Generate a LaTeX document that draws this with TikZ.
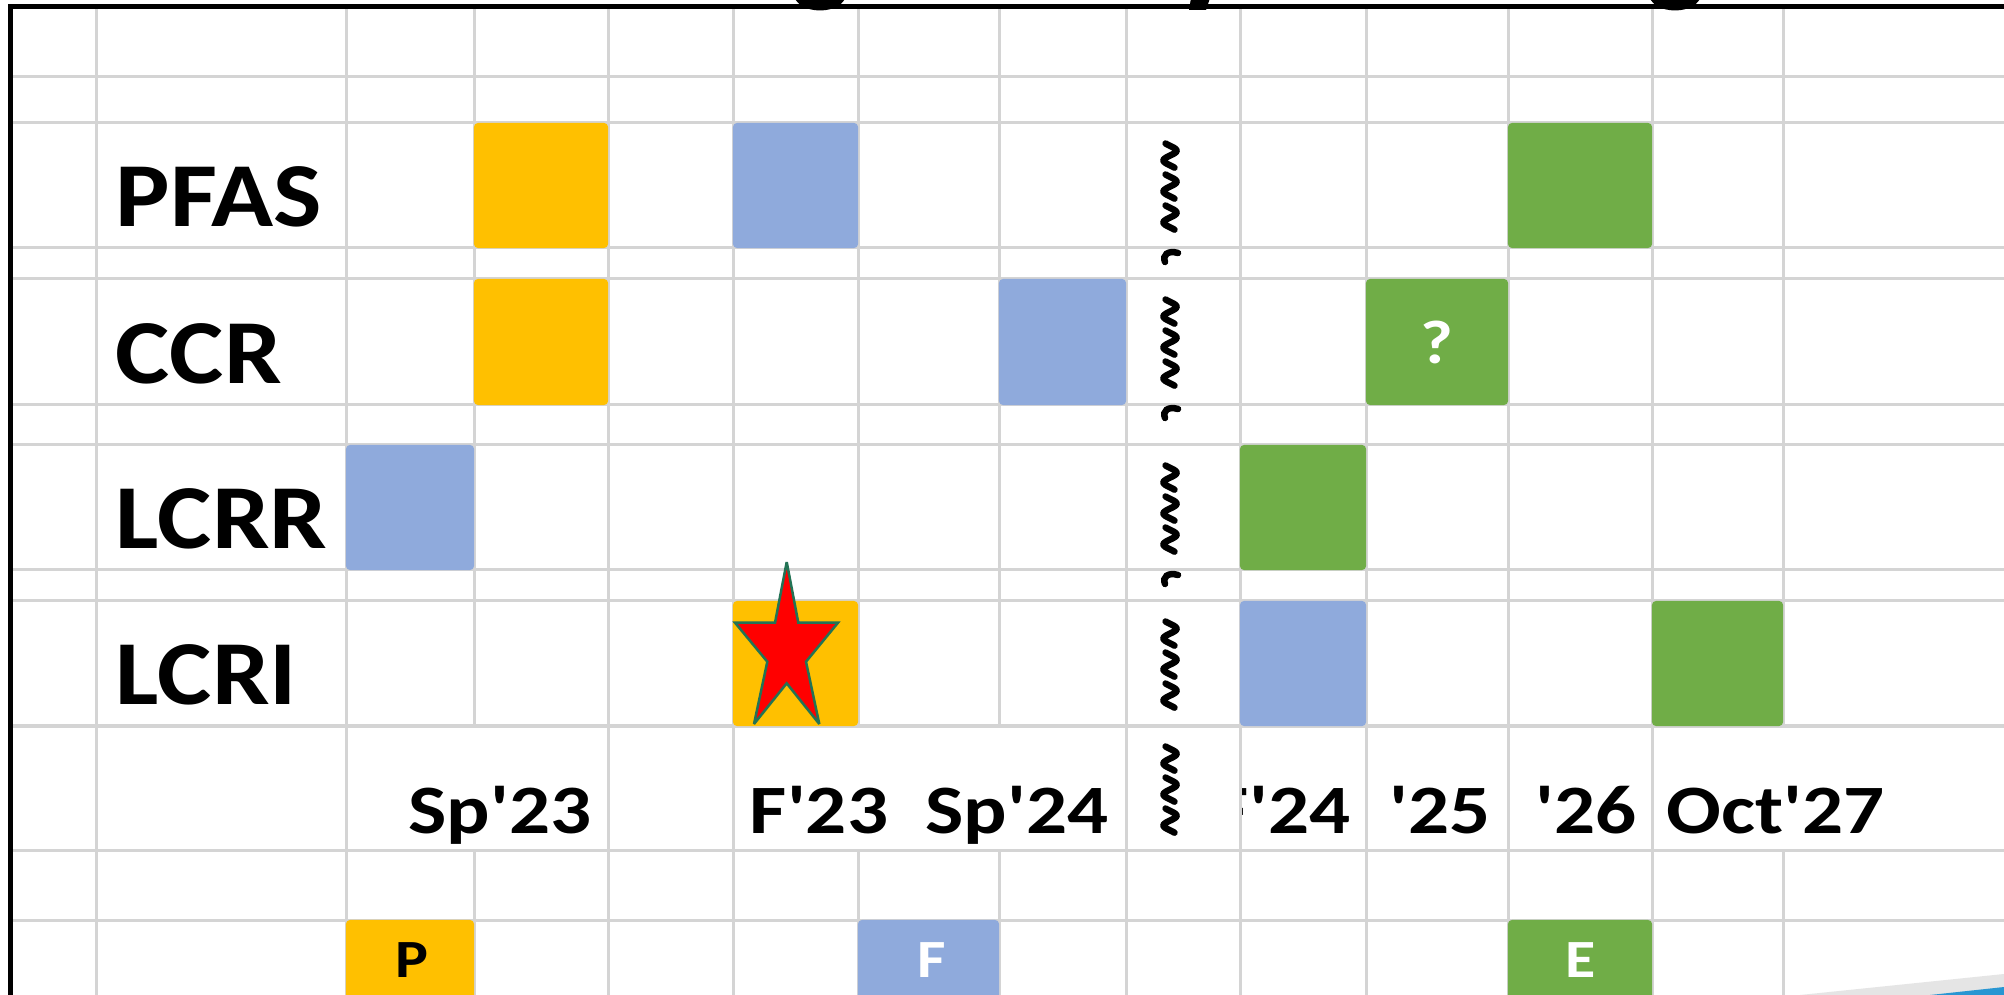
\documentclass[tikz,border=0pt]{standalone}
\usepackage{fontspec}
\newfontfamily\calfont{Carlito}
\definecolor{gridgray}{RGB}{212,212,212}
\definecolor{xlyellow}{RGB}{255,192,0}
\definecolor{xlblue}{RGB}{143,170,220}
\definecolor{xlgreen}{RGB}{112,173,71}
\definecolor{starred}{RGB}{255,0,0}
\definecolor{staredge}{RGB}{35,115,85}
\definecolor{swgray}{RGB}{229,229,229}
\definecolor{swblue}{RGB}{40,150,210}
\begin{document}
\begin{tikzpicture}[x=0.01cm,y=-0.01cm,
  gridline/.style={draw=gridgray,line width=0.03cm},
  cellbox/.style={rounded corners=0.04cm,inner sep=0pt,outer sep=0pt,draw=none},
  rowlabel/.style={anchor=base west,inner sep=0pt,xscale=1.12,font=\calfont\fontsize{26}{30}\selectfont\bfseries},
  axislabel/.style={inner sep=0pt,xscale=1.17,font=\calfont\fontsize{19.7}{24}\selectfont\bfseries},
  boxletter/.style={inner sep=0pt,xscale=1.15,font=\calfont\fontsize{15.3}{18}\selectfont\bfseries},
  squigline/.style={line width=0.065cm,line cap=round,draw=black},
  bordline/.style={line width=0.055cm,draw=black},
]
\useasboundingbox (0,0) rectangle (2004,995);
\clip (0,0) rectangle (2004,995);
\fill[white] (0,0) rectangle (2004,995);

% grid: horizontal lines
\foreach \yy in {77,123,248,279,405,445,570,601,726,850,920}
  \draw[gridline] (13,\yy) -- (2004,\yy);
% grid: vertical lines running through
\foreach \xx in {96,346,608,733,1126,1240,1366,1508,1652}
  \draw[gridline] (\xx,9) -- (\xx,995);
% grid: vertical lines interrupted by the date row
\foreach \xx in {474,858,999,1783} {
  \draw[gridline] (\xx,9) -- (\xx,726);
  \draw[gridline] (\xx,850) -- (\xx,995);
}

% coloured cells
\node[cellbox,fill=xlyellow,minimum width=1.34cm,minimum height=1.25cm] (pfasY) at (541,185.5) {};
\node[cellbox,fill=xlblue,minimum width=1.25cm,minimum height=1.25cm] (pfasB) at (795.5,185.5) {};
\node[cellbox,fill=xlgreen,minimum width=1.44cm,minimum height=1.25cm] (pfasG) at (1580,185.5) {};

\node[cellbox,fill=xlyellow,minimum width=1.34cm,minimum height=1.26cm] (ccrY) at (541,342) {};
\node[cellbox,fill=xlblue,minimum width=1.27cm,minimum height=1.26cm] (ccrB) at (1062.5,342) {};
\node[cellbox,fill=xlgreen,minimum width=1.42cm,minimum height=1.26cm] (ccrG) at (1437,342) {};

\node[cellbox,fill=xlblue,minimum width=1.28cm,minimum height=1.25cm] (lcrrB) at (410,507.5) {};
\node[cellbox,fill=xlgreen,minimum width=1.26cm,minimum height=1.25cm] (lcrrG) at (1303,507.5) {};

\node[cellbox,fill=xlyellow,minimum width=1.25cm,minimum height=1.25cm] (lcriY) at (795.5,663.5) {};
\node[cellbox,fill=xlblue,minimum width=1.26cm,minimum height=1.25cm] (lcriB) at (1303,663.5) {};
\node[cellbox,fill=xlgreen,minimum width=1.31cm,minimum height=1.25cm] (lcriG) at (1717.5,663.5) {};

\node[cellbox,fill=xlyellow,minimum width=1.28cm,minimum height=0.8cm] (botP) at (410,960) {};
\node[cellbox,fill=xlblue,minimum width=1.41cm,minimum height=0.8cm] (botF) at (928.5,960) {};
\node[cellbox,fill=xlgreen,minimum width=1.44cm,minimum height=0.8cm] (botE) at (1580,960) {};

% letters in cells
\node[boxletter,text=white,font=\calfont\fontsize{17.5}{20}\selectfont\bfseries] (qmark) at (ccrG.center) {?};
\node[boxletter,anchor=base,text=black] (tP) at (412,977) {P};
\node[boxletter,anchor=base,text=white] (tF) at (932,977) {F};
\node[boxletter,anchor=base,text=white] (tE) at (1581,977) {E};

% star
\draw[fill=starred,draw=staredge,line width=0.025cm,miter limit=4]
  (786.7,562) -- (798.3,622.7) -- (838,622.7) -- (806,661.7) -- (819.3,724)
  -- (786.7,683.3) -- (754,724) -- (767.3,661.7) -- (735,622.7) -- (775,622.7) -- cycle;

% row labels
\node[rowlabel] (lPFAS) at (115,227) {PFAS};
\node[rowlabel] (lCCR) at (115,384) {CCR};
\node[rowlabel] (lLCRR) at (115,549) {LCRR};
\node[rowlabel] (lLCRI) at (115,705) {LCRI};

% date labels
\node[axislabel,anchor=base east] (dSp23) at (592,833) {Sp'23};
\node[axislabel,anchor=base west] (dF23) at (749,833) {F'23};
\node[axislabel,anchor=base east] (dSp24) at (1109,833) {Sp'24};
\begin{scope}
  \clip (1242,726) rectangle (1366,850);
  \node[axislabel,anchor=base east] (dF24) at (1351,833) {F'24};
\end{scope}
\node[axislabel,anchor=base east] (d25) at (1491,833) {'25};
\node[axislabel,anchor=base east] (d26) at (1637,833) {'26};
\node[axislabel,anchor=base west] (dOct27) at (1666,833) {Oct'27};

% squiggles (vertical tildes) in the break column
\foreach \tt in {140,296,462,618,743} {
  \foreach \k in {0,1,2} {
    \draw[squigline] plot[domain=-0.12:1.12,samples=30,smooth,variable=\s]
      ({1170+6.5*sin(360*\s)},{\tt+31*\k+3.5+19.5*(\s+0.12)});
  }
}
\foreach \tt in {140,296,462} {
  \draw[squigline] (1178,\tt+113) .. controls (1168,\tt+110) and (1162,\tt+115) .. (1165,\tt+122);
}

% frame
\draw[bordline] (10.5,995) -- (10.5,6.5) -- (2004,6.5);

% cut-off title descenders
\fill[black] (820,-6) ellipse [x radius=26, y radius=16.5];
\fill[black] (1191,-2) -- (1210,-2) -- (1206,10) -- (1189,10) -- cycle;
\fill[black] (1675,-6) ellipse [x radius=26, y radius=16.5];

% corner swoosh
\fill[swgray] (1800,995) -- (2004,974) -- (2004,995) -- cycle;
\fill[swblue] (1930,995) -- (2004,987) -- (2004,995) -- cycle;
\end{tikzpicture}
\end{document}
